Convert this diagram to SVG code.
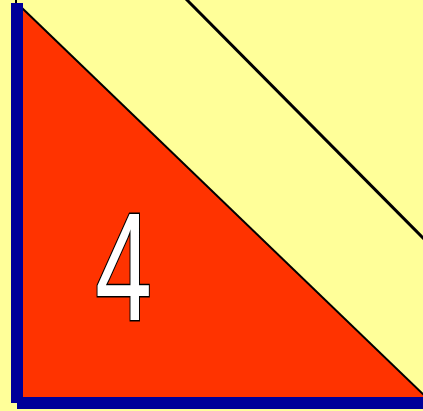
<svg xmlns="http://www.w3.org/2000/svg" width="423" height="411" viewBox="0 0 423 411">
<style>
.bar{fill:#000099}
.num{font-family:"Liberation Sans",Arial,sans-serif;font-size:154px;fill:#ffffff;stroke:#000000;stroke-width:3px;paint-order:stroke}
</style>
<rect width="423" height="411" fill="#ffff99"/>
<g id="triangle">
<polygon points="23,9 423,394 423,397 23,397" fill="#ff3300"/>
<line x1="21" y1="7" x2="425" y2="396" stroke="#000" stroke-width="2"/>
</g>
<g id="diagonal">
<line x1="186" y1="-1" x2="424" y2="239" stroke="#000" stroke-width="3"/>
</g>
<g id="axes">
<line x1="16" y1="0" x2="16" y2="4" stroke="#000" stroke-width="2"/>
<rect class="bar" x="11" y="3" width="12" height="400"/>
<rect class="bar" x="17" y="397" width="406" height="12"/>
</g>
<g id="label">
<text class="num" x="0" y="0" transform="translate(123.5,320) scale(0.66,1)" text-anchor="middle">4</text>
</g>
</svg>
